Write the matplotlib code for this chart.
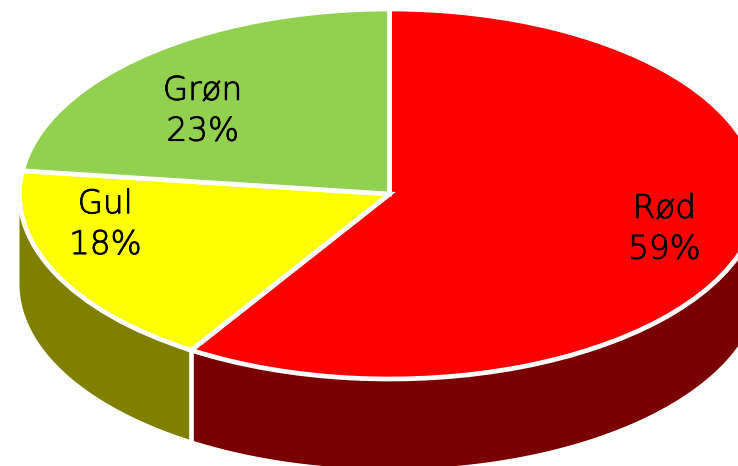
import matplotlib
matplotlib.use('Agg')
import matplotlib.pyplot as plt
import matplotlib.patheffects as pe
import numpy as np

labels = ['Rød', 'Gul', 'Grøn']
values = [59, 18, 23]
top_colors = ['#FF0000', '#FFFF00', '#92D050']
side_colors = ['#7A0000', '#808000', '#92D050']

rx, ry = 370, 185
cx, cy = 389.5, 194
depth = 90 / ry

fig = plt.figure(figsize=(7.38, 4.66), dpi=100)
ax = fig.add_axes([0, 0, 1, 1])

# side wall first, only the front half of the pie shows it
edges = 90 - np.cumsum([0] + values) * 3.6
for i in range(len(values)):
    a0, a1 = edges[i], edges[i + 1]
    t = np.radians(np.linspace(a0, a1, 200))
    t = t[(np.sin(t) <= 0)]
    if len(t) == 0:
        continue
    xs = np.cos(t)
    ys = np.sin(t)
    ax.fill(np.r_[xs, xs[::-1]], np.r_[ys, ys[::-1] - depth],
            color=side_colors[i], lw=0, zorder=1)

ax.pie(values, colors=top_colors, startangle=90, counterclock=False,
       wedgeprops={'edgecolor': 'white', 'linewidth': 3.4, 'zorder': 2})
ax.set_aspect('auto')
ax.set_xlim(-cx / rx, (738 - cx) / rx)
ax.set_ylim((cy - 466) / ry, cy / ry)

# white line between the red and yellow walls
e = np.radians(edges[1])
ax.plot([np.cos(e)] * 2, [np.sin(e), np.sin(e) - depth], color='white', lw=3.4, zorder=1.5)

# extralight plus a thin stroke comes nearest to the original's weight
font = dict(family='DejaVu Sans', weight='light', fontsize=23.5, color='black',
            ha='center', va='center', linespacing=1.3, zorder=5,
            path_effects=[pe.withStroke(linewidth=0.6, foreground='black')])
ax.text(0.743, -0.188, f'{labels[0]}\n{values[0]}%', **font)
ax.text(-0.768, -0.163, f'{labels[1]}\n{values[1]}%', **font)
ax.text(-0.505, 0.45, f'{labels[2]}\n{values[2]}%', **font)

fig.savefig('out.png', dpi=100)
